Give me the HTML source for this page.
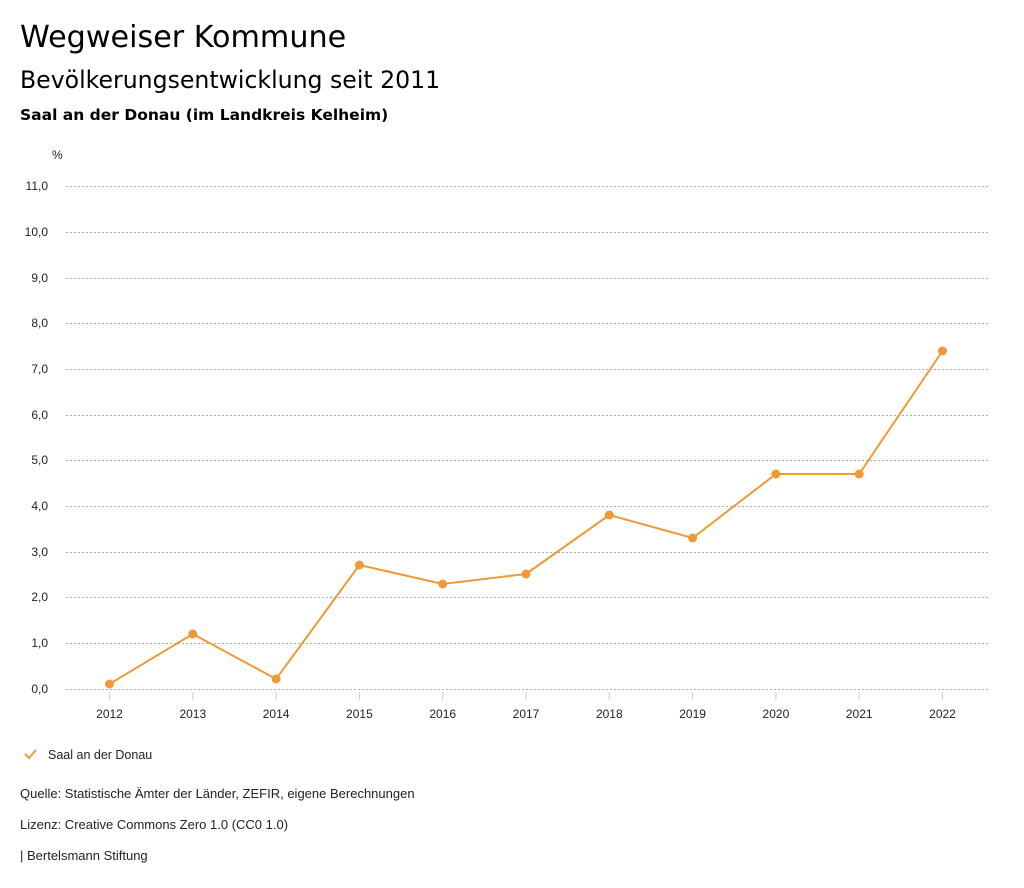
<!DOCTYPE html>
<html><head><meta charset="utf-8"><style>
body{margin:0;background:#fff;width:1024px;height:888px;overflow:hidden;font-family:"Liberation Sans",sans-serif;color:#000}
.t{position:absolute;left:20px;white-space:nowrap;font-family:"DejaVu Sans",sans-serif}
</style></head><body>
<div class="t" style="top:20px;font-size:30.2px">Wegweiser Kommune</div>
<div class="t" style="top:66px;font-size:23.6px">Bevölkerungsentwicklung seit 2011</div>
<div class="t" style="top:106px;font-size:15.5px;font-weight:bold">Saal an der Donau (im Landkreis Kelheim)</div>
<svg style="position:absolute;left:0;top:0" width="1024" height="888" font-family="Liberation Sans, sans-serif" font-size="12">
<text x="52" y="159" fill="#222">%</text>
<g stroke="#aaa" stroke-dasharray="2,2" stroke-width="1">
<line x1="66" x2="990" y1="186.5" y2="186.5"/><line x1="66" x2="990" y1="232.5" y2="232.5"/>
<line x1="66" x2="990" y1="278.5" y2="278.5"/><line x1="66" x2="990" y1="323.5" y2="323.5"/>
<line x1="66" x2="990" y1="369.5" y2="369.5"/><line x1="66" x2="990" y1="415.5" y2="415.5"/>
<line x1="66" x2="990" y1="460.5" y2="460.5"/><line x1="66" x2="990" y1="506.5" y2="506.5"/>
<line x1="66" x2="990" y1="552.5" y2="552.5"/><line x1="66" x2="990" y1="597.5" y2="597.5"/>
<line x1="66" x2="990" y1="643.5" y2="643.5"/><line x1="66" x2="990" y1="689.5" y2="689.5"/>
</g>
<g fill="#222" text-anchor="end">
<text x="48" y="190">11,0</text><text x="48" y="236">10,0</text><text x="48" y="282">9,0</text>
<text x="48" y="327">8,0</text><text x="48" y="373">7,0</text><text x="48" y="419">6,0</text>
<text x="48" y="464">5,0</text><text x="48" y="510">4,0</text><text x="48" y="556">3,0</text>
<text x="48" y="601">2,0</text><text x="48" y="647">1,0</text><text x="48" y="693">0,0</text>
</g>
<g stroke="#ccc"><line x1="109.5" x2="109.5" y1="692" y2="700"/><line x1="192.8" x2="192.8" y1="692" y2="700"/><line x1="276.1" x2="276.1" y1="692" y2="700"/><line x1="359.4" x2="359.4" y1="692" y2="700"/><line x1="442.7" x2="442.7" y1="692" y2="700"/><line x1="526" x2="526" y1="692" y2="700"/><line x1="609.3" x2="609.3" y1="692" y2="700"/><line x1="692.6" x2="692.6" y1="692" y2="700"/><line x1="775.9" x2="775.9" y1="692" y2="700"/><line x1="859.2" x2="859.2" y1="692" y2="700"/><line x1="942.5" x2="942.5" y1="692" y2="700"/></g>
<g fill="#222" text-anchor="middle">
<text x="109.5" y="718">2012</text><text x="192.8" y="718">2013</text><text x="276.1" y="718">2014</text><text x="359.4" y="718">2015</text><text x="442.7" y="718">2016</text><text x="526" y="718">2017</text><text x="609.3" y="718">2018</text><text x="692.6" y="718">2019</text><text x="775.9" y="718">2020</text><text x="859.2" y="718">2021</text><text x="942.5" y="718">2022</text>
</g>
<polyline fill="none" stroke="#ef9a37" stroke-width="2" points="109.5,684 192.8,634 276.1,679 359.4,565 442.7,584 526,574 609.3,515 692.6,538 775.9,474 859.2,474 942.5,351"/>
<g fill="#ef9a37"><circle cx="109.5" cy="684" r="4.5"/><circle cx="192.8" cy="634" r="4.5"/><circle cx="276.1" cy="679" r="4.5"/><circle cx="359.4" cy="565" r="4.5"/><circle cx="442.7" cy="584" r="4.5"/><circle cx="526" cy="574" r="4.5"/><circle cx="609.3" cy="515" r="4.5"/><circle cx="692.6" cy="538" r="4.5"/><circle cx="775.9" cy="474" r="4.5"/><circle cx="859.2" cy="474" r="4.5"/><circle cx="942.5" cy="351" r="4.5"/></g>
<polyline fill="none" stroke="#ef9a37" stroke-width="2" points="25,754 29,758 36,750"/>
<text x="48" y="759" font-size="12.5" fill="#222">Saal an der Donau</text>
<text x="20" y="798" font-size="13" fill="#222">Quelle: Statistische Ämter der Länder, ZEFIR, eigene Berechnungen</text>
<text x="20" y="829" font-size="13" fill="#222">Lizenz: Creative Commons Zero 1.0 (CC0 1.0)</text>
<text x="20" y="860" font-size="13" fill="#222">| Bertelsmann Stiftung</text>
</svg>
</body></html>
